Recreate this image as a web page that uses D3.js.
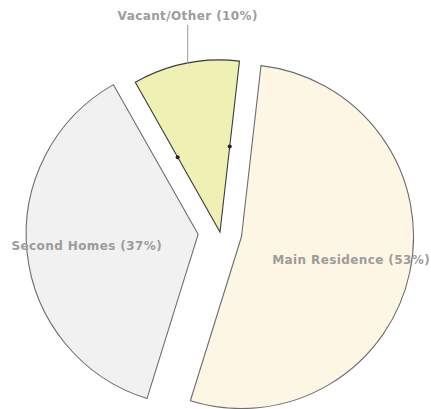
<!DOCTYPE html>
<html>
<head>
<meta charset="utf-8">
<script src="https://cdn.jsdelivr.net/npm/d3@7"></script>
<style>
  body { margin: 0; background: #fff; }
  text { font-family: "DejaVu Sans", Verdana, sans-serif; font-weight: bold; letter-spacing: 0.4px; }
</style>
</head>
<body>
<div id="chart"></div>
<script>
// share of dwellings
var categories = ["Main Residence", "Second Homes", "Vacant/Other"];
var values = [53, 37, 10];
var fills = ["#fef6e4", "#f1f1f1", "#eff0b4"];
var explode = [22, 22, 0];

var width = 431, height = 409;
var cx = 220, cy = 232, radius = 172;

var svg = d3.select("#chart")
	.append("svg")
	.attr("width", width)
	.attr("height", height)
	.append("g")
	.attr("transform", "translate(" + cx + "," + cy + ")");

var startA = 6.5 * Math.PI / 180;
var pie = d3.pie().sort(null).startAngle(startA).endAngle(startA + 2 * Math.PI);
var data = categories.map(function(c, i){
	return {name: c, value: values[i], fill: fills[i], off: explode[i]};
});
var arcs = pie.value(function(d){ return d.value; })(data);

var arc = d3.arc().innerRadius(0).outerRadius(radius);
var labelArc = d3.arc().innerRadius(112).outerRadius(112);

function shift(d){
	var a = (d.startAngle + d.endAngle) / 2;
	return [Math.sin(a) * d.data.off, -Math.cos(a) * d.data.off];
}

var slices = svg.selectAll(".slice")
	.data(arcs)
	.enter().append("g")
	.attr("class", "slice")
	.attr("transform", function(d){
		var s = shift(d);
		return "translate(" + s[0] + "," + s[1] + ")";
	});

slices.append("path")
	.attr("d", arc)
	.attr("fill", function(d){ return d.data.fill; })
	.attr("stroke", function(d){ return d.data.off ? "#6e6e6e" : "#3a3a3a"; })
	.attr("stroke-width", 1.1);

// little handles half way along the radial edges of the pulled-in slice
var small = arcs.filter(function(d){ return d.data.off === 0; });
small.forEach(function(d){
	[d.startAngle, d.endAngle].forEach(function(a){
		svg.append("circle")
			.attr("cx", Math.sin(a) * radius / 2)
			.attr("cy", -Math.cos(a) * radius / 2)
			.attr("r", 2)
			.attr("fill", "#222");
	});
});

// labels inside the big slices
arcs.filter(function(d){ return d.data.off > 0; }).forEach(function(d){
	var c = labelArc.centroid(d), s = shift(d);
	svg.append("text")
		.attr("x", c[0] + s[0])
		.attr("y", c[1] + s[1])
		.attr("dy", "0.35em")
		.attr("text-anchor", "middle")
		.attr("font-size", 12)
		.attr("fill", "#9c9c9c")
		.text(d.data.name + " (" + d.data.value + "%)");
});

// small slice label sits above the pie with a leader line
small.forEach(function(d){
	var a = (d.startAngle + d.endAngle) / 2;
	var x = Math.sin(a) * radius, y = -Math.cos(a) * radius;
	svg.append("line")
		.attr("x1", x + 2).attr("y1", y)
		.attr("x2", x + 2).attr("y2", 25 - cy)
		.attr("stroke", "#999")
		.attr("stroke-width", 1);
	svg.append("text")
		.attr("x", x + 2)
		.attr("y", 20 - cy)
		.attr("text-anchor", "middle")
		.attr("font-size", 12)
		.attr("fill", "#9c9c9c")
		.text(d.data.name + " (" + d.data.value + "%)");
});
</script>
</body>
</html>
